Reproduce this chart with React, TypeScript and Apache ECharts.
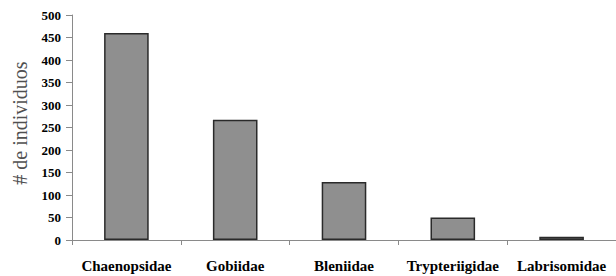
import React, { useEffect, useRef } from "react";
import * as echarts from "echarts";

const categories = ["Chaenopsidae", "Gobiidae", "Bleniidae", "Trypteriigidae", "Labrisomidae"];
const values = [460, 267, 129, 50, 7];
const yTitle = "# de individuos";

const SERIF = "'Liberation Serif', 'Times New Roman', serif";

export default function App() {
  const ref = useRef<HTMLDivElement>(null);
  useEffect(() => {
    const chart = echarts.init(ref.current!, null, { renderer: "svg" });
    chart.setOption({
      animation: false,
      backgroundColor: "#ffffff",
      grid: { left: 72, top: 15, bottom: 36, width: 550, containLabel: false },
      xAxis: {
        type: "category",
        data: categories,
        axisLine: { lineStyle: { color: "#8a8a8a", width: 1 } },
        axisTick: { show: true, length: 5, lineStyle: { color: "#8a8a8a" } },
        axisLabel: {
          color: "#000",
          fontFamily: SERIF,
          fontWeight: "bold",
          fontSize: 15,
          margin: 18,
          interval: 0,
        },
      },
      yAxis: {
        type: "value",
        min: 0,
        max: 500,
        interval: 50,
        splitLine: { show: false },
        axisLine: { show: true, lineStyle: { color: "#8a8a8a", width: 1 } },
        axisTick: { show: true, length: 6, lineStyle: { color: "#8a8a8a" } },
        axisLabel: {
          color: "#000",
          fontFamily: SERIF,
          fontWeight: "bold",
          fontSize: 13,
          margin: 11,
        },
      },
      graphic: [
        {
          type: "text",
          x: 20,
          y: 123,
          rotation: Math.PI / 2,
          style: {
            text: yTitle,
            fill: "#505050",
            font: "20px 'Liberation Serif', serif",
            align: "center",
            verticalAlign: "middle",
          },
        },
      ],
      series: [
        {
          type: "bar",
          data: values,
          barWidth: "41%",
          itemStyle: { color: "#8f8f8f", borderColor: "#2a2a2a", borderWidth: 1.5 },
        },
      ],
    });
    return () => chart.dispose();
  }, []);
  return <div ref={ref} style={{ width: 616, height: 276, position: "absolute", left: 0, top: 0 }} />;
}
